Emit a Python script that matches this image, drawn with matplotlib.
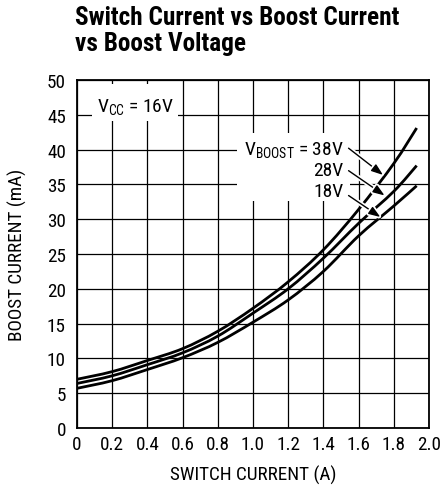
import numpy as np
import matplotlib
matplotlib.use("Agg")
import matplotlib.pyplot as plt
from matplotlib.path import Path
from matplotlib.patches import PathPatch, Rectangle
import matplotlib.patheffects as pe
from matplotlib import font_manager as fm

# ---- data ----
switch_current = [0.0, 0.2, 0.4, 0.6, 0.8, 1.0, 1.2, 1.4, 1.6, 1.8, 1.93]
boost_38v = [7.0, 8.1, 9.7, 11.4, 13.9, 17.2, 21.0, 25.6, 31.4, 38.0, 43.1]
boost_28v = [6.4, 7.5, 9.1, 10.8, 13.2, 16.5, 20.0, 24.4, 29.4, 34.0, 37.7]
boost_18v = [5.7, 6.8, 8.4, 10.1, 12.3, 15.2, 18.4, 22.5, 27.6, 31.9, 34.8]
series_labels = ["V$_{\\mathrm{BOOST}}$ = 38V", "28V", "18V"]
x_ticks = [0, 0.2, 0.4, 0.6, 0.8, 1.0, 1.2, 1.4, 1.6, 1.8, 2.0]
x_tick_labels = ["0", "0.2", "0.4", "0.6", "0.8", "1.0", "1.2", "1.4", "1.6", "1.8", "2.0"]
y_ticks = [0, 5, 10, 15, 20, 25, 30, 35, 40, 45, 50]
y_tick_labels = [str(v) for v in y_ticks]

available = {f.name for f in fm.fontManager.ttflist}
MAIN = next((f for f in ["Roboto Condensed", "Liberation Sans Narrow", "Roboto"]
             if f in available), "DejaVu Sans")
plt.rcParams["font.family"] = [MAIN, "DejaVu Sans"]
plt.rcParams["mathtext.fontset"] = "custom"
plt.rcParams["mathtext.rm"] = MAIN
plt.rcParams["mathtext.it"] = MAIN
plt.rcParams["mathtext.bf"] = MAIN + ":bold"


def smooth_path(xs, ys):
    """Catmull-Rom curve through the data points, as cubic Bezier path."""
    P = np.column_stack([xs, ys]).astype(float)
    n = len(P)
    verts = [P[0]]
    codes = [Path.MOVETO]
    for i in range(n - 1):
        p0 = P[i - 1] if i > 0 else P[i]
        p1 = P[i]
        p2 = P[i + 1]
        p3 = P[i + 2] if i + 2 < n else P[i + 1]
        c1 = p1 + (p2 - p0) / 6.0
        c2 = p2 - (p3 - p1) / 6.0
        verts += [c1, c2, p2]
        codes += [Path.CURVE4] * 3
    return Path(verts, codes)


fig = plt.figure(figsize=(4.44, 4.89), dpi=100)
ax = fig.add_axes([0.1734, 0.1227, 0.7928, 0.7117])

ax.set_xlim(0, 2.0)
ax.set_ylim(0, 50)
ax.set_xticks(x_ticks)
ax.set_xticklabels(x_tick_labels)
ax.set_yticks(y_ticks)
ax.set_yticklabels(y_tick_labels)
ax.tick_params(length=0, labelsize=13.8)
ax.tick_params(axis="x", pad=5)
ax.tick_params(axis="y", pad=8)
ax.grid(True, color="black", linewidth=0.9)
ax.set_axisbelow(True)
for s in ax.spines.values():
    s.set_linewidth(1.3)
    s.set_zorder(5)

ax.set_xlabel("SWITCH CURRENT (A)", fontsize=13.8, va="center")
ax.set_ylabel("BOOST CURRENT (mA)", fontsize=13.8, va="center")
ax.xaxis.set_label_coords(0.5, -0.134)
ax.yaxis.set_label_coords(-0.168, 0.5)

# white label boxes that hide the grid
ax.add_patch(Rectangle((0.085, 44.1), 0.49, 5.3, facecolor="white",
                       edgecolor="none", zorder=1))
ax.add_patch(Rectangle((0.91, 32.6), 0.64, 9.8, facecolor="white",
                       edgecolor="none", zorder=1))

for ys in (boost_38v, boost_28v, boost_18v):
    ax.add_patch(PathPatch(smooth_path(switch_current, ys), facecolor="none",
                           edgecolor="black", linewidth=2.0, zorder=2,
                           capstyle="butt"))

ax.text(0.335, 46.2, "V$_{\\mathrm{CC}}$ = 16V", fontsize=14,
        ha="center", va="center", zorder=3)

label_pos = [(1.513, 40.1), (1.513, 37.1), (1.513, 34.05)]
arrow_start = [(1.543, 40.2), (1.543, 36.97), (1.543, 33.4)]
arrow_end = [(1.739, 36.35), (1.748, 33.4), (1.724, 30.3)]
for lab, (tx, ty), st, en in zip(series_labels, label_pos, arrow_start, arrow_end):
    ax.text(tx, ty, lab, fontsize=14, ha="right", va="center", zorder=3)
    ax.annotate("", xy=en, xytext=st,
                arrowprops=dict(arrowstyle="-|>,head_length=0.7,head_width=0.25",
                                color="black", lw=1.0, shrinkA=0, shrinkB=0,
                                path_effects=[pe.Stroke(linewidth=3.5, foreground="white"),
                                              pe.Normal()]),
                zorder=4)

fig.text(75 / 444, 1 - 6 / 489, "Switch Current vs Boost Current\nvs Boost Voltage",
         fontsize=18.2, fontweight="bold", ha="left", va="top", linespacing=1.1)

fig.savefig("out.png", dpi=100)
